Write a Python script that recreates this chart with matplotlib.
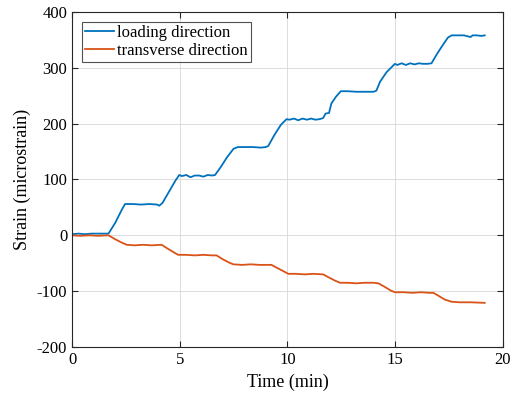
import numpy as np
import matplotlib.pyplot as plt

plt.rcParams['font.family'] = ['Liberation Serif', 'DejaVu Serif']
plt.rcParams['axes.unicode_minus'] = False

t_load = [0, 0.3, 0.6, 0.9, 1.2, 1.5, 1.69, 2.0, 2.3, 2.46, 2.8, 3.2, 3.6, 3.95, 4.05,
          4.2, 4.5, 4.8, 4.98, 5.1, 5.3, 5.5, 5.7, 5.9, 6.1, 6.3, 6.5, 6.64, 6.9, 7.2,
          7.5, 7.7, 8.0, 8.4, 8.77, 9.0, 9.11, 9.4, 9.7, 9.96, 10.1, 10.3, 10.5, 10.7,
          10.9, 11.1, 11.3, 11.5, 11.66, 11.77, 11.93, 12.04, 12.25, 12.48, 12.8, 13.2,
          13.6, 14.0, 14.13, 14.3, 14.6, 14.99, 15.1, 15.3, 15.5, 15.7, 15.9, 16.1, 16.3,
          16.5, 16.69, 16.9, 17.2, 17.45, 17.62, 17.9, 18.2, 18.5, 18.6, 18.8, 19.0, 19.16]
s_load = [2, 3, 2, 3, 3, 3, 3, 22, 45, 56, 56, 55, 56, 55, 53,
          58, 78, 98, 108, 106, 108, 104, 107, 107, 105, 108, 107, 108, 122, 140,
          155, 158, 158, 158, 157, 158, 160, 180, 198, 208, 207, 209, 206, 209,
          207, 209, 207, 208, 210, 218, 219, 236, 248, 258, 258, 257,
          257, 257, 259, 275, 292, 307, 305, 308, 305, 308, 306, 308, 307,
          307, 308, 322, 340, 354, 358, 358, 358, 355, 358, 358, 357, 358]

t_trans = [0, 0.4, 0.8, 1.2, 1.69, 2.0, 2.3, 2.54, 2.9, 3.3, 3.7, 4.16, 4.4, 4.7, 4.93,
           5.3, 5.7, 6.1, 6.5, 6.71, 7.0, 7.3, 7.49, 7.9, 8.3, 8.7, 9.0, 9.26, 9.5, 9.8,
           10.04, 10.4, 10.8, 11.2, 11.66, 11.9, 12.2, 12.44, 12.8, 13.2, 13.6, 14.0,
           14.22, 14.5, 14.8, 14.99, 15.4, 15.8, 16.2, 16.6, 16.77, 17.0, 17.3, 17.62,
           18.0, 18.5, 19.16]
s_trans = [0, -1, 0, -1, 0, -7, -13, -17, -18, -17, -18, -17, -23, -30, -35,
           -35, -36, -35, -36, -36, -43, -49, -52, -53, -52, -53, -53, -53, -58, -64,
           -69, -69, -70, -69, -70, -75, -81, -85, -85, -86, -85, -85,
           -86, -92, -99, -102, -102, -103, -102, -103, -103, -108, -115, -119,
           -120, -120, -121]

fig = plt.figure(figsize=(5.11, 3.97), dpi=100)
ax = fig.add_axes([0.141, 0.126, 0.843, 0.844])
ax.plot(t_load, s_load, color='#0072BD', lw=1.3, label='loading direction')
ax.plot(t_trans, s_trans, color='#D95319', lw=1.3, label='transverse direction')

ax.set_xlim(0, 20)
ax.set_ylim(-200, 400)
ax.set_xticks([0, 5, 10, 15, 20])
ax.set_yticks([-200, -100, 0, 100, 200, 300, 400])
ax.grid(True, color='#dcdcdc', lw=0.7)
ax.tick_params(direction='in', top=True, right=True, labelsize=12, length=4, color='#262626')
for sp in ax.spines.values():
    sp.set_color('#262626')
    sp.set_linewidth(0.8)
ax.set_xlabel('Time (min)', fontsize=13, labelpad=4)
ax.set_ylabel('Strain (microstrain)', fontsize=13, labelpad=4)

leg = ax.legend(loc='upper left', fontsize=12, handlelength=1.7, handletextpad=0.2,
                borderpad=0.2, labelspacing=0.1, fancybox=False, borderaxespad=0.6)
leg.get_frame().set_edgecolor('#262626')
leg.get_frame().set_linewidth(0.8)

fig.savefig('out.png', dpi=100)
